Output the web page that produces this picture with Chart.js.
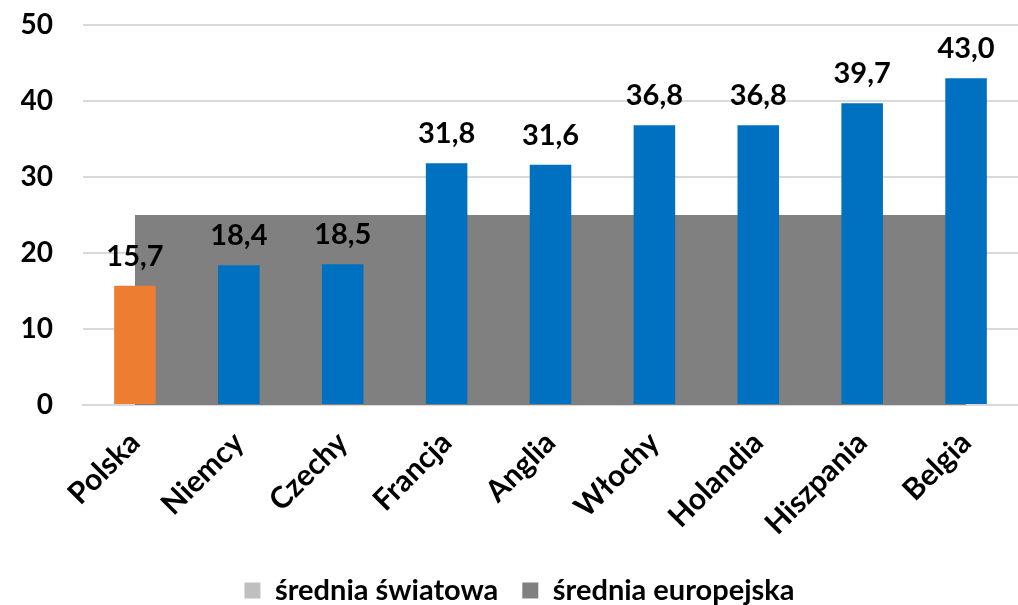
<!DOCTYPE html>
<html>
<head>
<meta charset="utf-8">
<script src="https://cdn.jsdelivr.net/npm/chart.js@4/dist/chart.umd.min.js"></script>
<style>
html,body{margin:0;padding:0;background:#fff;}
#wrap{width:1018px;height:605px;}
</style>
</head>
<body>
<div id="wrap"><canvas id="c" width="1018" height="605"></canvas></div>
<script>
const categories = ["Polska","Niemcy","Czechy","Francja","Anglia","Włochy","Holandia","Hiszpania","Belgia"];
const countryValues = [15.7, 18.4, 18.5, 31.8, 31.6, 36.8, 36.8, 39.7, 43.0];
const europeanAverage = [25, 25, 25, 25, 25, 25, 25, 25, 25];
const worldAverage = [];
const yTicks = [0, 10, 20, 30, 40, 50];

const FONT = "Lato, 'Open Sans', sans-serif";

const labelPlugin = {
  id: 'barLabels',
  afterDatasetsDraw(chart) {
    const ctx = chart.ctx;
    chart.data.datasets.forEach((ds, i) => {
      if (ds.type !== 'bar') return;
      const meta = chart.getDatasetMeta(i);
      ctx.save();
      ctx.font = "bold 29px " + FONT;
      ctx.fillStyle = '#000';
      ctx.textAlign = 'center';
      ctx.textBaseline = 'alphabetic';
      meta.data.forEach((el, j) => {
        const txt = ds.data[j].toFixed(1).replace('.', ',');
        ctx.fillText(txt, el.x, el.y - 20);
      });
      ctx.restore();
    });
  }
};

Chart.defaults.color = '#000';
Chart.defaults.font.family = FONT;

new Chart(document.getElementById('c'), {
  data: {
    labels: categories,
    datasets: [
      {
        type: 'bar',
        label: 'kraje',
        data: countryValues,
        backgroundColor: categories.map((c, i) => i === 0 ? '#ED7D31' : '#0070C0'),
        categoryPercentage: 0.4,
        barPercentage: 1.0,
        order: 0
      },
      {
        type: 'line',
        label: 'średnia światowa',
        data: worldAverage,
        backgroundColor: '#BFBFBF',
        borderColor: '#BFBFBF',
        borderWidth: 0,
        pointRadius: 0,
        fill: 'origin',
        order: 1
      },
      {
        type: 'line',
        label: 'średnia europejska',
        data: europeanAverage,
        backgroundColor: '#808080',
        borderColor: '#808080',
        borderWidth: 0,
        pointRadius: 0,
        fill: 'origin',
        tension: 0,
        order: 2
      }
    ]
  },
  options: {
    responsive: false,
    animation: false,
    layout: { padding: { left: 21, right: 0, top: 25, bottom: -10 } },
    plugins: {
      tooltip: { enabled: false },
      legend: {
        position: 'bottom',
        labels: {
          filter: (item) => item.text !== 'kraje',
          font: { size: 29, weight: 'bold', family: FONT },
          color: '#000',
          boxWidth: 16,
          boxHeight: 16,
          padding: 24
        }
      }
    },
    scales: {
      x: {
        offset: true,
        afterFit: (scale) => { scale.paddingLeft = 0; scale.paddingRight = 0; scale.height = scale.height - 10; },
        grid: { display: false, drawTicks: false },
        border: { display: true, color: '#D9D9D9', width: 2 },
        ticks: {
          maxRotation: 45,
          minRotation: 45,
          padding: 20,
          font: { size: 30, weight: 'bold', family: FONT },
          color: '#000'
        }
      },
      y: {
        min: 0,
        max: 50,
        afterFit: (scale) => { scale.paddingTop = 0; scale.paddingBottom = 0; scale.width = 62; },
        afterBuildTicks: (axis) => { axis.ticks = yTicks.map(v => ({ value: v })); },
        grid: { color: '#D9D9D9', lineWidth: 2, drawTicks: false },
        border: { display: false },
        ticks: {
          padding: 30,
          font: { size: 28, weight: 'bold', family: FONT },
          color: '#000'
        }
      }
    }
  },
  plugins: [labelPlugin]
});
</script>
</body>
</html>
